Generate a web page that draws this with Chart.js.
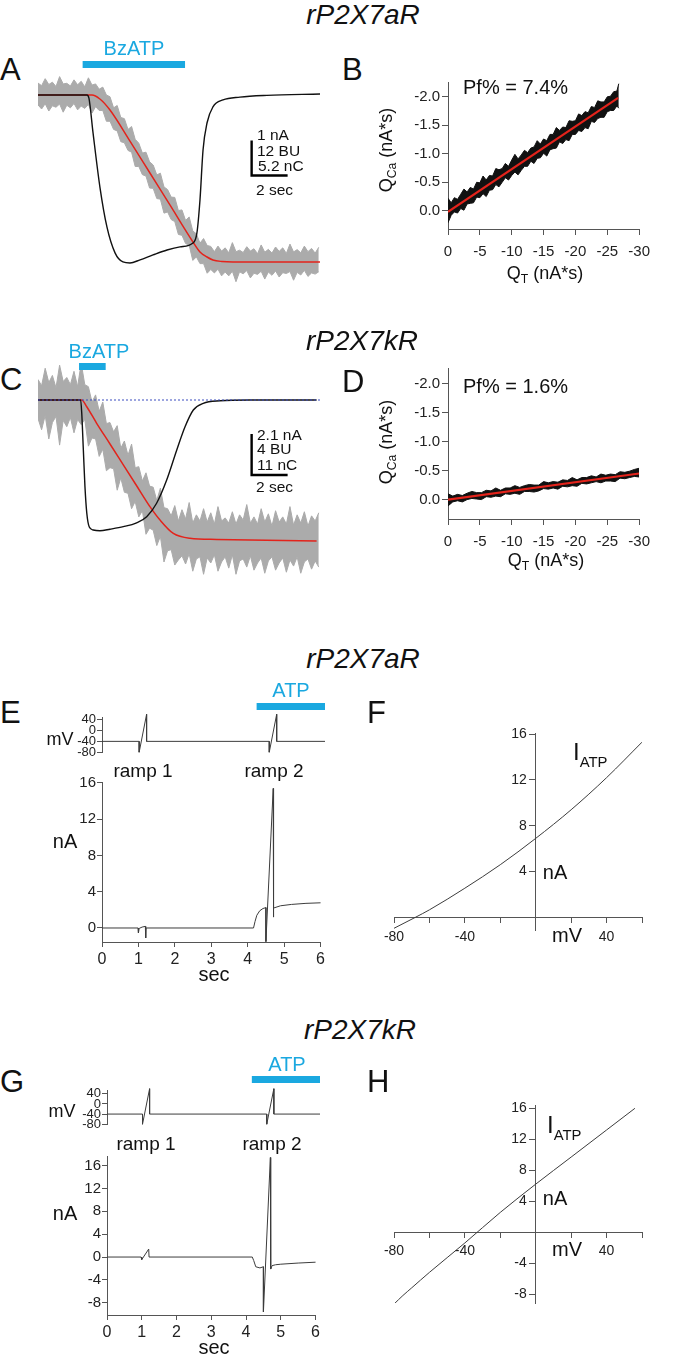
<!DOCTYPE html>
<html>
<head>
<meta charset="utf-8">
<script src="https://cdn.jsdelivr.net/npm/chart.js@4.4.1/dist/chart.umd.min.js"></script>
<style>
html, body { margin: 0; background: #fff; }
#fig { position: relative; width: 675px; height: 1361px; overflow: hidden;
       font-family: 'Liberation Sans', Arial, sans-serif; color: #111; }
#fig canvas { position: absolute; }
.t { position: absolute; white-space: nowrap; line-height: 1; }
.t sub { font-size: 0.68em; vertical-align: -0.3em; line-height: 0; }
.t sub.iv { font-size: 0.62em; vertical-align: -0.45em; }
</style>
</head>
<body>
<div id="fig"></div>
<script>
// ---- Panel A (rP2X7aR, BzATP): current (nA), fluorescence (BU), charge (nC) vs time (s)
const aTimeI = [0, 2.72, 2.83, 3.06, 3.44, 3.83, 4.28, 4.72, 5.11, 5.67, 6.39, 7.17, 7.89, 8.61, 8.83, 9.0, 9.17, 9.39, 9.72, 10.28, 11.22, 12.72, 15.67];
const aCurrent = [0, 0, -0.09, -1.09, -2.63, -3.77, -4.51, -4.77, -4.80, -4.71, -4.57, -4.43, -4.34, -4.23, -3.94, -3.0, -1.57, -0.80, -0.34, -0.14, -0.06, -0.01, 0.03];
const aTimeQ = [0, 3.0, 3.44, 4.0, 5.11, 6.22, 7.33, 8.61, 9.0, 9.39, 9.72, 10.22, 10.83, 15.67];
const aCharge = [0, 0, -0.59, -2.23, -6.84, -11.59, -16.34, -21.84, -23.33, -24.07, -24.52, -24.74, -24.81, -24.81];
const aTimeF = [0, 0.2, 0.4, 0.6, 0.8, 1.0, 1.2, 1.4, 1.6, 1.8, 2.0, 2.2, 2.4, 2.6, 2.8, 3.0,
    3.2, 3.4, 3.6, 3.8, 4.0, 4.2, 4.4, 4.6, 4.8, 5.0, 5.2, 5.4, 5.6, 5.8, 6.0, 6.2,
    6.4, 6.6, 6.8, 7.0, 7.2, 7.4, 7.6, 7.8, 8.0, 8.2, 8.4, 8.6, 8.8, 9.0, 9.2, 9.4,
    9.6, 9.8, 10.0, 10.2, 10.4, 10.6, 10.8, 11.0, 11.2, 11.4, 11.6, 11.8, 12.0, 12.2, 12.4, 12.6,
    12.8, 13.0, 13.2, 13.4, 13.6, 13.8, 14.0, 14.2, 14.4, 14.6, 14.8, 15.0, 15.2, 15.4, 15.6];
const aFluorHi = [4.1, 3.2, 5.6, 3.6, 4.4, 2.9, 6.3, 3.8, 4.0, 3.1, 5.2, 3.5, 4.7, 2.8, 5.9, 3.4,
    3.8, 2.0, 2.7, 0.0, -0.6, -4.4, -3.6, -7.7, -8.1, -11.8, -10.8, -15.2, -16.5, -19.9, -19.6, -22.9,
    -24.0, -27.4, -26.8, -31.5, -32.4, -35.0, -35.1, -39.6, -39.4, -43.0, -41.8, -46.6, -47.6, -50.8, -49.2, -51.6,
    -51.9, -53.7, -51.8, -53.5, -52.4, -54.1, -50.6, -53.7, -53.2, -54.0, -52.0, -53.5, -52.7, -54.4, -51.4, -53.9,
    -52.9, -54.2, -52.1, -53.6, -52.4, -54.3, -51.1, -53.8, -53.0, -54.1, -51.8, -53.7, -52.6, -54.2, -52.2];
const aFluorLo = [-3.4, -4.8, -3.0, -5.5, -3.7, -4.2, -3.1, -5.9, -3.5, -4.4, -2.9, -5.1, -3.8, -4.6, -3.2, -6.2,
    -4.0, -5.3, -5.3, -9.0, -9.0, -11.8, -12.3, -16.0, -16.4, -19.0, -19.6, -24.5, -24.5, -27.3, -27.8, -31.9,
    -32.0, -35.5, -35.7, -40.5, -40.1, -42.7, -43.4, -47.8, -48.1, -50.9, -51.5, -56.7, -55.5, -57.8, -57.8, -61.1,
    -59.8, -61.0, -59.7, -62.0, -60.7, -62.0, -60.4, -64.0, -60.6, -61.3, -60.2, -62.7, -61.1, -61.5, -60.4, -63.1,
    -60.7, -61.8, -60.3, -62.4, -60.9, -61.2, -60.5, -63.5, -60.8, -61.7, -60.1, -62.2, -61.0, -61.4, -60.6];
const aDrug = [2.48, 8.17];

// ---- Panel B: Q_Ca vs Q_T (nA*s)
const bQt = [0, -0.5, -1, -1.5, -2, -2.5, -3, -3.5, -4, -4.5, -5, -5.5, -6, -6.5, -7, -7.5, -8, -8.5, -9, -9.5,
    -10, -10.5, -11, -11.5, -12, -12.5, -13, -13.5, -14, -14.5, -15, -15.5, -16, -16.5, -17, -17.5, -18, -18.5, -19, -19.5,
    -20, -20.5, -21, -21.5, -22, -22.5, -23, -23.5, -24, -24.5, -25, -25.5, -26, -26.5, -26.8];
const bHi = [-0.22, -0.14, -0.23, -0.20, -0.29, -0.38, -0.33, -0.41, -0.38, -0.50, -0.49, -0.61, -0.54, -0.62, -0.61, -0.74, -0.72, -0.74, -0.83, -0.78,
    -0.89, -0.99, -0.91, -0.98, -1.06, -1.02, -1.10, -1.12, -1.23, -1.17, -1.26, -1.23, -1.34, -1.34, -1.46, -1.41, -1.47, -1.46, -1.58, -1.57,
    -1.58, -1.70, -1.67, -1.74, -1.72, -1.83, -1.81, -1.93, -1.91, -1.91, -2.00, -2.01, -2.09, -2.10, -2.23];
const bLo = [0.21, 0.08, 0.02, 0.04, -0.04, -0.01, -0.12, -0.13, -0.14, -0.24, -0.23, -0.30, -0.25, -0.36, -0.37, -0.46, -0.42, -0.50, -0.58, -0.54,
    -0.62, -0.68, -0.63, -0.71, -0.78, -0.78, -0.87, -0.83, -0.92, -0.93, -1.01, -0.96, -1.07, -1.09, -1.10, -1.21, -1.18, -1.25, -1.23, -1.34,
    -1.34, -1.41, -1.39, -1.46, -1.44, -1.57, -1.55, -1.62, -1.64, -1.64, -1.74, -1.76, -1.76, -1.84, -1.80];
const bFitX = [0, -26.7];
const bFitY = [0.02, -1.98];

// ---- Panel C (rP2X7kR, BzATP)
const cTimeI = [0, 2.37, 2.43, 2.52, 2.61, 2.71, 2.85, 3.07, 3.44, 4.0, 4.74, 5.48, 6.04, 6.59, 7.15, 7.71, 8.17, 8.63, 9.18, 10.11, 11.78, 15.48];
const cCurrent = [0, 0, -0.67, -2.56, -4.46, -5.79, -6.51, -6.66, -6.70, -6.62, -6.49, -6.29, -5.98, -5.29, -4.10, -2.56, -1.37, -0.51, -0.17, -0.04, 0, 0];
const cTimeQ = [0, 2.43, 2.71, 3.26, 4.0, 4.74, 5.48, 6.22, 6.78, 7.52, 8.44, 9.93, 15.48];
const cCharge = [0, 0, -1.80, -6.25, -11.8, -17.4, -23.0, -28.6, -32.2, -35.8, -37.1, -37.4, -37.8];
const cTimeF = aTimeF;
const cFluorHi = [2.0, 1.4, 3.1, 1.7, 2.4, 1.2, 3.4, 1.8, 2.2, 1.5, 2.8, 1.3, 3.6, 1.5, 1.3, -0.2,
    0.5, -1.1, -0.2, -2.3, -2.2, -3.1, -2.5, -4.7, -4.0, -5.4, -4.3, -6.6, -6.5, -7.9, -7.1, -8.4,
    -8.5, -9.8, -8.6, -10.5, -10.6, -11.3, -10.3, -11.8, -10.7, -11.6, -10.0, -12.0, -11.2, -11.8, -10.6, -11.9,
    -11.0, -12.1, -10.4, -11.8, -11.5, -12.0, -10.9, -12.1, -11.2, -11.7, -10.2, -12.0, -11.4, -12.1, -10.6, -11.9,
    -11.1, -12.3, -10.8, -11.9, -11.4, -12.1, -10.4, -12.2, -11.2, -12.0, -10.9, -12.3, -11.3, -11.8, -11.0];
const cFluorLo = [-1.8, -2.9, -1.5, -3.8, -2.2, -1.6, -4.4, -2.0, -2.6, -1.7, -3.2, -1.9, -2.4, -1.9, -4.5, -3.7,
    -3.8, -5.5, -4.8, -6.9, -6.6, -6.7, -8.8, -7.6, -9.0, -9.1, -10.6, -9.9, -11.4, -10.8, -13.1, -12.5,
    -12.7, -14.2, -13.3, -15.8, -14.7, -14.6, -16.1, -15.6, -15.2, -16.0, -15.0, -16.7, -15.5, -15.3, -17.0, -15.4,
    -15.9, -15.1, -16.7, -15.8, -15.3, -16.4, -15.1, -17.0, -15.7, -15.5, -16.3, -15.2, -16.6, -15.9, -15.4, -16.9,
    -15.7, -15.3, -16.6, -15.9, -15.4, -16.8, -15.6, -16.2, -15.3, -16.9, -15.8, -15.5, -16.5, -15.7, -16.3];
const cBaseT = [0, 15.78];
const cBaseI = [0, 0];
const cDrug = [2.28, 3.76];

// ---- Panel D
const dQt = [0, -0.75, -1.5, -2.25, -3, -3.75, -4.5, -5.25, -6, -6.75, -7.5, -8.25, -9, -9.75, -10.5, -11.25, -12, -12.75, -13.5, -14.25,
    -15, -15.75, -16.5, -17.25, -18, -18.75, -19.5, -20.25, -21, -21.75, -22.5, -23.25, -24, -24.75, -25.5, -26.25, -27, -27.75, -28.5, -29.25, -30];
const dHi = [-0.10, -0.06, -0.09, -0.07, -0.11, -0.14, -0.12, -0.12, -0.16, -0.15, -0.20, -0.16, -0.20, -0.20, -0.24, -0.21, -0.24, -0.26, -0.25, -0.25,
    -0.31, -0.29, -0.31, -0.30, -0.34, -0.33, -0.38, -0.34, -0.38, -0.38, -0.41, -0.39, -0.44, -0.42, -0.44, -0.43, -0.48, -0.47, -0.49, -0.52, -0.54];
const dLo = [0.11, 0.04, 0.02, 0.04, 0.00, -0.02, -0.01, 0.00, -0.05, -0.04, -0.06, -0.05, -0.10, -0.09, -0.11, -0.09, -0.14, -0.14, -0.13, -0.15,
    -0.19, -0.18, -0.20, -0.18, -0.23, -0.22, -0.24, -0.23, -0.28, -0.27, -0.29, -0.31, -0.29, -0.32, -0.32, -0.31, -0.37, -0.36, -0.38, -0.40, -0.39];
const dFitX = [0, -30];
const dFitY = [0.0, -0.45];

// ---- Panels E/G: voltage protocol and current vs time (s)
const rampTime = [0, 1.0, 1.0, 1.2, 1.2, 4.5, 4.5, 4.7, 4.7, 6.0];
const rampVolt = [-40, -40, -80, 60, -40, -40, -80, 60, -40, -40];
const eTimeI = [0, 0.99, 1.0, 1.02, 1.1, 1.19, 1.2, 1.21, 4.16, 4.2, 4.25, 4.33, 4.42, 4.5, 4.5, 4.7, 4.7, 4.72, 4.9, 5.2, 5.6, 6.0];
const eCurr = [0, 0, -0.55, -0.05, 0.1, 0.18, -1.1, 0, 0, 0.7, 1.4, 1.9, 2.15, 2.25, -1.5, 15.4, 1.2, 2.2, 2.45, 2.6, 2.72, 2.78];
const eDrug = [4.16, 6.0];
const gTimeI = [0, 0.98, 1.0, 1.2, 1.21, 4.18, 4.22, 4.28, 4.4, 4.5, 4.5, 4.7, 4.71, 4.75, 4.85, 5.0, 5.5, 6.0];
const gCurr = [0, 0, -0.45, 1.4, 0, 0, -0.6, -1.7, -1.9, -1.7, -9.6, 17.4, -2.1, -1.5, -1.35, -1.25, -1.05, -0.9];
const gDrug = [4.08, 6.0];

// ---- Panels F/H: I-V relations
const fVolt = [-80, -68, -60, -40, -20, 0, 20, 40, 60];
const fCurr = [-0.95, 0, 0.66, 2.55, 4.6, 6.9, 9.4, 12.2, 15.3];
const hVolt = [-80, -75, -70, -60, -40, -20, 0, 20, 40, 56];
const hCurr = [-9.3, -8.2, -7.2, -5.2, -1.4, 2.55, 6.2, 9.7, 13.2, 16.0];

// ---- tick values / labels
const bTicksX = [0, -5, -10, -15, -20, -25, -30];
const bTicksY = [-2, -1.5, -1, -0.5, 0];
const mvTicks = [40, 0, -40, -80];
const secTicks = [0, 1, 2, 3, 4, 5, 6];
const eTicksI = [0, 4, 8, 12, 16];
const gTicksI = [-8, -4, 0, 4, 8, 12, 16];
const ivTicksX = [-80, -60, -40, -20, 0, 20, 40, 60];
const ivLabelsX = ['-80', '', '-40', '', '', '', '40', ''];
const fTicksY = [4, 8, 12, 16];
const hTicksY = [-8, -4, 4, 8, 12, 16];

const colors = {
    black: '#111111',
    red: '#e3231b',
    gray: '#ababab',
    blue: '#1aa8e0',
    dotted: '#3b4cc0',
    trace: '#3c3c3c',
    axis: '#555555',
    ink: '#222222'
};
const fontFamily = "'Liberation Sans', Arial, sans-serif";

Chart.defaults.font.family = fontFamily;
Chart.defaults.color = colors.ink;
Chart.defaults.animation = false;
Chart.defaults.events = [];
Chart.defaults.plugins.legend.display = false;
Chart.defaults.plugins.tooltip.enabled = false;

const fig = document.getElementById('fig');

function makeChart(box, config) {
    const c = document.createElement('canvas');
    c.width = box.w;
    c.height = box.h;
    c.style.left = box.x + 'px';
    c.style.top = box.y + 'px';
    c.style.width = box.w + 'px';
    c.style.height = box.h + 'px';
    fig.appendChild(c);
    config.options.responsive = false;
    config.options.devicePixelRatio = 1;
    return new Chart(c.getContext('2d'), config);
}

function line(xs, ys, color, width, extra) {
    return Object.assign({
        data: xs.map((x, i) => ({x: x, y: ys[i]})),
        borderColor: color,
        borderWidth: width,
        pointRadius: 0,
        fill: false,
        tension: 0
    }, extra || {});
}

function hidden(min, max) {
    return {type: 'linear', display: false, min: min, max: max};
}

// visible axis with fixed tick list and fixed box size
function axis(min, max, ticks, o) {
    return {
        type: 'linear', min: min, max: max,
        reverse: !!o.reverse,
        position: o.position,
        afterBuildTicks: s => { s.ticks = ticks.map(v => ({value: v})); },
        afterFit: s => { if (s.isHorizontal()) s.height = o.size; else s.width = o.size; },
        ticks: {
            display: !o.noLabels,
            autoSkip: false, maxRotation: 0, minRotation: 0,
            padding: o.pad, color: colors.ink,
            font: {size: o.font},
            callback: o.labels || (v => String(v))
        },
        grid: {drawOnChartArea: false, drawTicks: true, tickLength: o.tick, color: colors.axis},
        border: {display: true, color: colors.axis, width: 1}
    };
}

// drug application bar and calibration bar, placed through the chart's scales
function decor(spec) {
    return {
        id: 'decor',
        afterDatasetsDraw(chart) {
            const ctx = chart.ctx;
            const xs = chart.scales.x;
            ctx.save();
            if (spec.drug) {
                const x0 = xs.getPixelForValue(spec.drug[0]);
                const x1 = xs.getPixelForValue(spec.drug[1]);
                ctx.fillStyle = colors.blue;
                ctx.fillRect(x0, spec.drugTop, x1 - x0, 7);
            }
            if (spec.bar) {
                const b = spec.bar, ys = chart.scales[b.axis];
                const x0 = xs.getPixelForValue(b.t), x1 = xs.getPixelForValue(b.t + b.dt);
                const y0 = ys.getPixelForValue(b.v), y1 = ys.getPixelForValue(b.v + b.dv);
                ctx.strokeStyle = '#000';
                ctx.lineWidth = 2.4;
                ctx.beginPath();
                ctx.moveTo(x0, y1);
                ctx.lineTo(x0, y0);
                ctx.lineTo(x1, y0);
                ctx.stroke();
            }
            ctx.restore();
        }
    };
}

// y labels for the crossing axes of the I-V plots (left of the y axis at 0 mV)
function ivYLabels(ticks) {
    return {
        id: 'ivYLabels',
        afterDraw(chart) {
            const ctx = chart.ctx;
            const x0 = chart.scales.x.getPixelForValue(0) - 6 - 3;
            ctx.save();
            ctx.font = '14px ' + fontFamily;
            ctx.fillStyle = colors.ink;
            ctx.textAlign = 'right';
            ctx.textBaseline = 'middle';
            ticks.forEach(v => ctx.fillText(String(v), x0, chart.scales.y.getPixelForValue(v)));
            ctx.restore();
        }
    };
}

// ---------- A
makeChart({x: 38, y: 30, w: 284, h: 262}, {
    type: 'line',
    data: {datasets: [
        line(aTimeI, aCurrent, colors.black, 1.4, {yAxisID: 'yI', order: 1, cubicInterpolationMode: 'monotone'}),
        line(aTimeQ, aCharge, colors.red, 1.5, {yAxisID: 'yQ', order: 2, cubicInterpolationMode: 'monotone'}),
        line(aTimeF, aFluorHi, colors.gray, 1, {yAxisID: 'yF', order: 4}),
        line(aTimeF, aFluorLo, colors.gray, 1, {yAxisID: 'yF', order: 3, fill: '-1', backgroundColor: colors.gray})
    ]},
    options: {
        layout: {autoPadding: false, padding: 0},
        scales: {x: hidden(0, 15.78), yI: hidden(-5.629, 1.857), yF: hidden(-67.53, 22.28), yQ: hidden(-29.27, 9.657)}
    },
    plugins: [decor({drug: aDrug, drugTop: 31, bar: {axis: 'yI', t: 11.87, v: -2.3, dt: 2, dv: 1}})]
});

// ---------- C
makeChart({x: 38, y: 340, w: 284, h: 235}, {
    type: 'line',
    data: {datasets: [
        line(cBaseT, cBaseI, colors.dotted, 1.2, {yAxisID: 'yI', order: 0, borderDash: [2, 2]}),
        line(cTimeI, cCurrent, colors.black, 1.4, {yAxisID: 'yI', order: 1, cubicInterpolationMode: 'monotone'}),
        line(cTimeQ, cCharge, colors.red, 1.5, {yAxisID: 'yQ', order: 2, cubicInterpolationMode: 'monotone'}),
        line(cTimeF, cFluorHi, colors.gray, 1, {yAxisID: 'yF', order: 4}),
        line(cTimeF, cFluorLo, colors.gray, 1, {yAxisID: 'yF', order: 3, fill: '-1', backgroundColor: colors.gray})
    ]},
    options: {
        layout: {autoPadding: false, padding: 0},
        scales: {x: hidden(0, 15.78), yI: hidden(-8.965, 3.074), yF: hidden(-17.07, 5.854), yQ: hidden(-46.95, 16.10)}
    },
    plugins: [decor({drug: cDrug, drugTop: 23, bar: {axis: 'yI', t: 11.87, v: -3.84, dt: 2, dv: 2.1}})]
});

// ---------- B and D
function fluxChart(box, qt, hi, lo, fitX, fitY, yMin, yMax) {
    makeChart(box, {
        type: 'line',
        data: {datasets: [
            line(fitX, fitY, colors.red, 2.2, {order: 1}),
            line(qt, hi, colors.black, 1, {order: 3}),
            line(qt, lo, colors.black, 1, {order: 2, fill: '-1', backgroundColor: colors.black})
        ]},
        options: {
            layout: {autoPadding: false, padding: {top: 12, right: 15}},
            scales: {
                x: axis(-30, 0, bTicksX, {reverse: true, size: 40, pad: 8, font: 15, tick: 6}),
                y: axis(yMin, yMax, bTicksY, {reverse: true, size: 68, pad: 2, font: 15, tick: 6, labels: v => v.toFixed(1)})
            }
        }
    });
}
fluxChart({x: 380, y: 70, w: 278, h: 199}, bQt, bHi, bLo, bFitX, bFitY, -2.26, 0.32);
fluxChart({x: 380, y: 356, w: 278, h: 203}, dQt, dHi, dLo, dFitX, dFitY, -2.27, 0.335);

// ---------- E and G
function protocolCharts(vBox, iBox, vMax, iMin, iMax, iTicks, tI, curr, drug, drugTop) {
    makeChart(vBox, {
        type: 'line',
        data: {datasets: [line(rampTime, rampVolt, colors.trace, 1, {clip: false})]},
        options: {
            layout: {autoPadding: false, padding: {top: vBox.padTop, right: 3}},
            scales: {
                x: hidden(0, 6),
                y: axis(-80, vMax, mvTicks, {size: vBox.axisW, pad: 1, font: 13, tick: 5})
            }
        },
        plugins: [decor({drug: drug, drugTop: drugTop})]
    });
    makeChart(iBox, {
        type: 'line',
        data: {datasets: [line(tI, curr, colors.trace, 1, {clip: false})]},
        options: {
            layout: {autoPadding: false, padding: {top: 10, right: 3}},
            scales: {
                x: axis(0, 6, secTicks, {size: 30, pad: 3, font: 16, tick: 5}),
                y: axis(iMin, iMax, iTicks, {size: iBox.axisW, pad: 1, font: 15, tick: 5})
            }
        }
    });
}
protocolCharts({x: 40, y: 690, w: 288, h: 71, padTop: 27, axisW: 62},
               {x: 40, y: 772, w: 288, h: 200, axisW: 62},
               50, -1.545, 16.11, eTicksI, eTimeI, eCurr, eDrug, 13);
protocolCharts({x: 45, y: 1060, w: 278, h: 73, padTop: 30, axisW: 62},
               {x: 45, y: 1146, w: 278, h: 199, axisW: 62},
               55, -10.13, 17.66, gTicksI, gTimeI, gCurr, gDrug, 16);

// ---------- F and H
function ivChart(box, pad, volt, curr, yMin, yMax, yTicks) {
    makeChart(box, {
        type: 'line',
        data: {datasets: [line(volt, curr, colors.trace, 1, {cubicInterpolationMode: 'monotone'})]},
        options: {
            layout: {autoPadding: false, padding: pad},
            scales: {
                x: axis(-80, 60, ivTicksX, {position: {y: 0}, size: 0, pad: 6, font: 14, tick: 5, labels: (v, i) => ivLabelsX[i]}),
                y: axis(yMin, yMax, yTicks, {position: {x: 0}, size: 0, pad: 3, font: 14, tick: 6, noLabels: true})
            }
        },
        plugins: [ivYLabels(yTicks)]
    });
}
ivChart({x: 340, y: 720, w: 320, h: 230}, {left: 54, right: 18, top: 13, bottom: 20}, fVolt, fCurr, -1.1, 16.1, fTicksY);
ivChart({x: 340, y: 1095, w: 320, h: 220}, {left: 54, right: 18, top: 10, bottom: 12}, hVolt, hCurr, -9.16, 16.43, hTicksY);

// ---------- text
function label(html, x, base, size, align, color) {
    const d = document.createElement('div');
    d.className = 't';
    d.innerHTML = html;
    d.style.fontSize = size + 'px';
    d.style.left = x + 'px';
    d.style.top = (base - 0.85 * size) + 'px';
    align = align || 'center';
    if (align === 'center') d.style.transform = 'translateX(-50%)';
    if (align === 'right') d.style.transform = 'translateX(-100%)';
    if (color) d.style.color = color;
    fig.appendChild(d);
}
function vlabel(html, cx, cy, size) {
    const d = document.createElement('div');
    d.className = 't';
    d.innerHTML = html;
    d.style.fontSize = size + 'px';
    d.style.left = cx + 'px';
    d.style.top = cy + 'px';
    d.style.transform = 'translate(-50%, -50%) rotate(-90deg)';
    fig.appendChild(d);
}

label('<i>rP2X7aR</i>', 363, 25, 28);
label('<i>rP2X7kR</i>', 362, 351, 28);
label('<i>rP2X7aR</i>', 363, 669, 28);
label('<i>rP2X7kR</i>', 360, 1040, 28);

label('A', 0, 80, 31, 'left');
label('B', 342, 80, 31, 'left');
label('C', 0, 390, 31, 'left');
label('D', 342, 392, 31, 'left');
label('E', 0, 723, 31, 'left');
label('F', 367, 723, 31, 'left');
label('G', 0, 1092, 31, 'left');
label('H', 367, 1092, 31, 'left');

label('BzATP', 134, 55, 20, 'center', colors.blue);
label('BzATP', 99, 358, 20, 'center', colors.blue);
label('ATP', 291, 697, 20, 'center', colors.blue);
label('ATP', 287, 1071, 20, 'center', colors.blue);

label('1 nA', 257, 140, 15.5, 'left');
label('12 BU', 257, 156, 15.5, 'left');
label('5.2 nC', 258, 171, 15.5, 'left');
label('2 sec', 256, 195, 15.5, 'left');
label('2.1 nA', 257, 440, 15.5, 'left');
label('4 BU', 257, 454, 15.5, 'left');
label('11 nC', 257, 470, 15.5, 'left');
label('2 sec', 256, 492, 15.5, 'left');

label('Pf% = 7.4%', 463, 94, 20, 'left');
label('Pf% = 1.6%', 463, 393, 20, 'left');
vlabel('Q<sub>Ca</sub> (nA*s)', 386, 150, 18);
vlabel('Q<sub>Ca</sub> (nA*s)', 386, 442, 18);
label('Q<sub>T</sub> (nA*s)', 545, 279, 18);
label('Q<sub>T</sub> (nA*s)', 546, 566, 18);

label('mV', 60, 745, 18);
label('ramp 1', 143, 777, 19);
label('ramp 2', 274, 777, 19);
label('nA', 65, 848, 20);
label('sec', 214, 981, 20);
label('mV', 62, 1117, 18);
label('ramp 1', 146, 1150, 19);
label('ramp 2', 272, 1150, 19);
label('nA', 65, 1220, 20);
label('sec', 214, 1354, 20);

label('I<sub class="iv">ATP</sub>', 573, 760, 24, 'left');
label('nA', 555, 879, 20);
label('mV', 567, 942, 20);
label('I<sub class="iv">ATP</sub>', 547, 1133, 24, 'left');
label('nA', 555, 1205, 20);
label('mV', 567, 1256, 20);
</script>
</body>
</html>
